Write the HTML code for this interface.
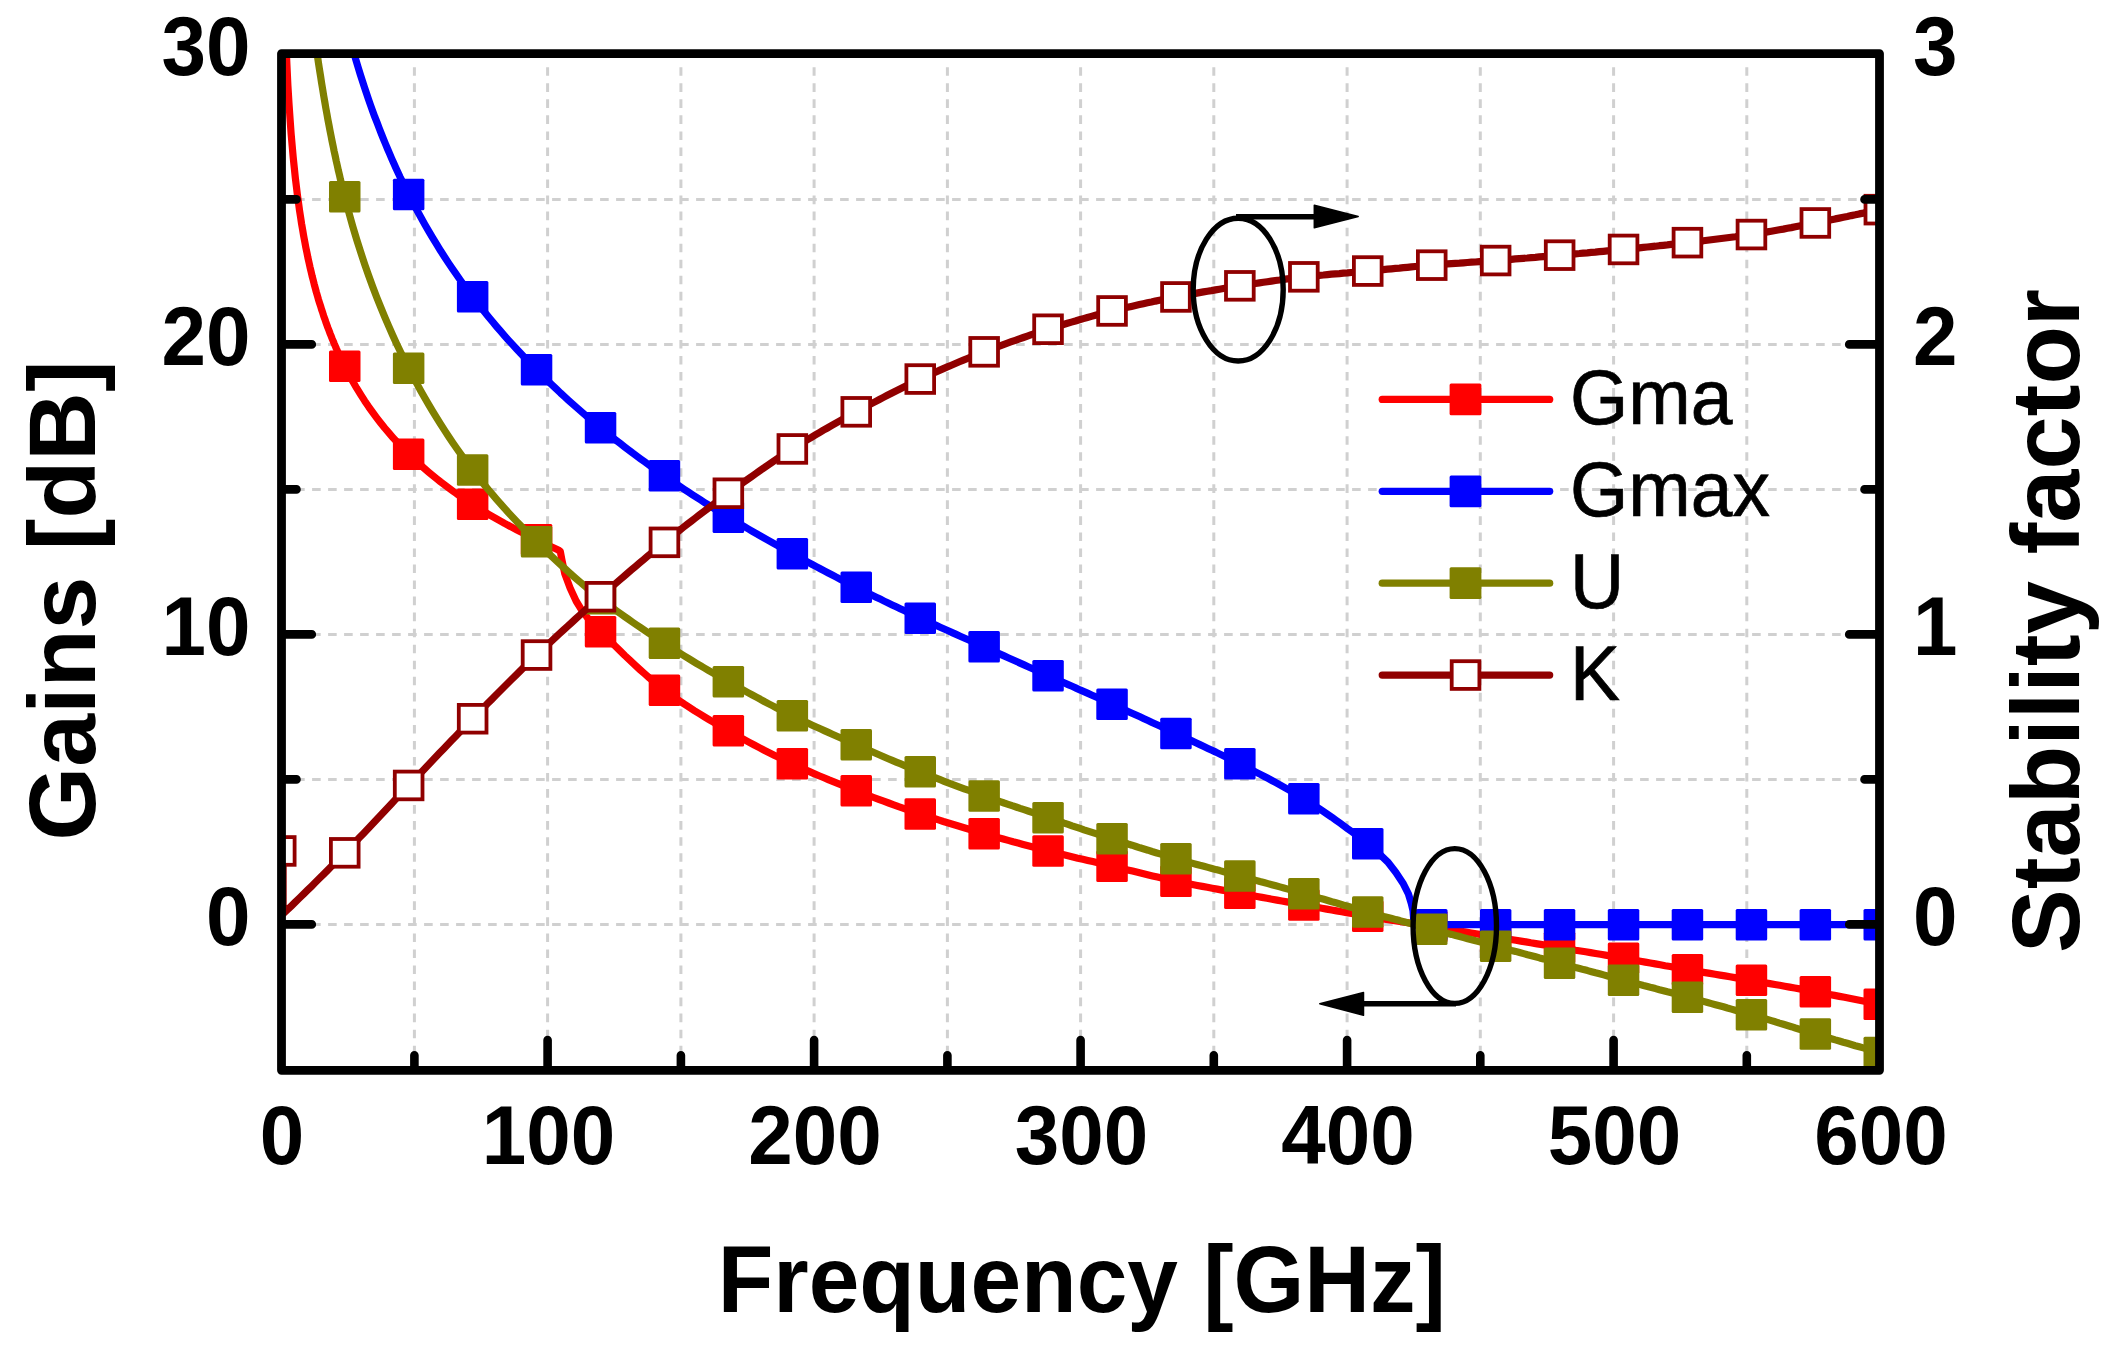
<!DOCTYPE html>
<html lang="en"><head><meta charset="utf-8"><title>Gains and stability factor vs frequency</title>
<style>html,body{margin:0;padding:0;background:#fff}svg{display:block}text{font-family:"Liberation Sans",sans-serif;fill:#000}.b{font-weight:bold}.tk{font-size:80px;font-weight:bold}.ti{font-size:95px;font-weight:bold}.lg{font-size:75px;stroke:#000;stroke-width:0.7px}</style></head><body>
<svg width="2123" height="1346" viewBox="0 0 2123 1346" role="img" aria-label="Gains and stability factor versus frequency">
<rect width="2123" height="1346" fill="#fff"/>
<defs><clipPath id="pc"><rect x="281.5" y="53.6" width="1598.0" height="1016.7"/></clipPath><clipPath id="gc"><rect x="288.5" y="60.6" width="1584.0" height="1002.7"/></clipPath></defs>
<g stroke="#d0d0d0" stroke-width="3" stroke-dasharray="8.6 7.44" fill="none" clip-path="url(#gc)">
<line x1="414.4" y1="51.2" x2="414.4" y2="1070.3"/>
<line x1="547.6" y1="51.2" x2="547.6" y2="1070.3"/>
<line x1="680.9" y1="51.2" x2="680.9" y2="1070.3"/>
<line x1="814.1" y1="51.2" x2="814.1" y2="1070.3"/>
<line x1="947.4" y1="51.2" x2="947.4" y2="1070.3"/>
<line x1="1080.6" y1="51.2" x2="1080.6" y2="1070.3"/>
<line x1="1213.8" y1="51.2" x2="1213.8" y2="1070.3"/>
<line x1="1347.1" y1="51.2" x2="1347.1" y2="1070.3"/>
<line x1="1480.3" y1="51.2" x2="1480.3" y2="1070.3"/>
<line x1="1613.6" y1="51.2" x2="1613.6" y2="1070.3"/>
<line x1="1746.8" y1="51.2" x2="1746.8" y2="1070.3"/>
<line stroke-dasharray="8.6 7.4" x1="280.1" y1="924.4" x2="1879.5" y2="924.4"/>
<line stroke-dasharray="8.6 7.4" x1="280.1" y1="779.4" x2="1879.5" y2="779.4"/>
<line stroke-dasharray="8.6 7.4" x1="280.1" y1="634.4" x2="1879.5" y2="634.4"/>
<line stroke-dasharray="8.6 7.4" x1="280.1" y1="489.4" x2="1879.5" y2="489.4"/>
<line stroke-dasharray="8.6 7.4" x1="280.1" y1="344.4" x2="1879.5" y2="344.4"/>
<line stroke-dasharray="8.6 7.4" x1="280.1" y1="199.4" x2="1879.5" y2="199.4"/>
</g>
<g clip-path="url(#pc)" fill="none" stroke-linejoin="round" stroke-linecap="butt">
<path d="M282.7,-98.2 L283.7,-34.3 L284.8,7.9 L285.8,39.5 L286.9,64.7 L287.9,85.7 L289.0,103.6 L290.1,119.4 L291.1,133.4 L292.2,146.0 L293.2,157.4 L294.3,167.9 L295.3,177.6 L296.4,186.6 L297.4,195.0 L298.5,202.8 L299.5,210.2 L300.6,217.2 L301.6,223.9 L302.7,230.2 L303.7,236.1 L304.8,241.9 L305.8,247.3 L306.9,252.6 L307.9,257.6 L309.0,262.5 L310.0,267.1 L311.1,271.6 L312.1,276.0 L313.2,280.2 L314.2,284.2 L315.3,288.2 L316.3,292.0 L317.4,295.7 L318.4,299.3 L319.5,302.8 L320.6,306.2 L321.6,309.5 L322.7,312.7 L323.7,315.9 L324.8,318.9 L325.8,321.9 L326.9,324.9 L327.9,327.7 L329.0,330.5 L330.0,333.3 L331.1,335.9 L332.1,338.6 L333.2,341.1 L334.2,343.6 L335.3,346.1 L336.3,348.5 L337.4,350.9 L338.4,353.2 L339.5,355.5 L340.5,357.8 L341.6,360.0 L342.6,362.2 L343.7,364.3 L344.7,366.4 L348.7,374.1 L352.7,381.3 L356.7,388.2 L360.7,394.7 L364.7,400.9 L368.7,406.8 L372.7,412.4 L376.7,417.8 L380.7,423.0 L384.7,428.0 L388.7,432.7 L392.7,437.3 L396.7,441.7 L400.7,446.0 L404.7,450.1 L408.7,454.1 L412.7,457.9 L416.7,461.7 L420.7,465.3 L424.7,468.8 L428.7,472.2 L432.7,475.5 L436.7,478.7 L440.6,481.9 L444.6,484.9 L448.6,487.9 L452.6,490.8 L456.6,493.7 L460.6,496.4 L464.6,499.1 L468.6,501.8 L472.6,504.4 L476.6,506.9 L480.6,509.4 L484.6,511.9 L488.6,514.3 L492.6,516.6 L496.6,518.9 L500.6,521.1 L504.6,523.4 L508.6,525.5 L512.6,527.7 L516.6,529.8 L520.6,531.8 L524.6,533.8 L528.6,535.8 L532.6,537.8 L536.6,539.7 L540.9,541.8 L545.3,543.9 L549.6,546.0 L554.0,548.0 L558.3,550.0 L560.3,551.5 L561.8,559.4 L564.8,573.7 L570.1,588.0 L576.1,601.0 L582.0,610.6 L590.0,621.0 L595.0,626.1 L600.0,631.2 L604.9,636.0 L609.9,640.9 L614.9,645.8 L619.9,650.6 L624.8,655.5 L629.8,660.2 L634.8,664.9 L639.8,669.5 L644.8,673.9 L649.7,678.3 L654.7,682.4 L659.7,686.4 L664.7,690.3 L669.6,693.9 L674.6,697.5 L679.6,700.9 L684.6,704.3 L689.6,707.5 L694.5,710.7 L699.5,713.8 L704.5,716.8 L709.5,719.8 L714.4,722.8 L719.4,725.7 L724.4,728.5 L729.4,731.4 L734.4,734.2 L739.3,737.0 L744.3,739.7 L749.3,742.4 L754.3,745.0 L759.3,747.6 L764.2,750.2 L769.2,752.7 L774.2,755.2 L779.2,757.6 L784.1,760.0 L789.1,762.4 L794.1,764.7 L799.1,767.0 L804.1,769.2 L809.0,771.4 L814.0,773.6 L819.0,775.7 L824.0,777.8 L828.9,779.9 L833.9,781.9 L838.9,783.9 L843.9,785.9 L848.9,787.9 L853.8,789.9 L858.8,791.8 L863.8,793.7 L868.8,795.6 L873.7,797.5 L878.7,799.4 L883.7,801.2 L888.7,803.0 L893.7,804.8 L898.6,806.6 L903.6,808.3 L908.6,810.1 L913.6,811.8 L918.5,813.4 L923.5,815.1 L928.5,816.7 L933.5,818.3 L938.5,819.9 L943.4,821.5 L948.4,823.0 L953.4,824.5 L958.4,826.0 L963.3,827.5 L968.3,829.0 L973.3,830.5 L978.3,831.9 L983.3,833.3 L988.2,834.8 L993.2,836.2 L998.2,837.6 L1003.2,839.0 L1008.2,840.4 L1013.1,841.8 L1018.1,843.1 L1023.1,844.5 L1028.1,845.8 L1033.0,847.1 L1038.0,848.4 L1043.0,849.7 L1048.0,851.0 L1053.0,852.2 L1057.9,853.4 L1062.9,854.6 L1067.9,855.8 L1072.9,857.0 L1077.8,858.2 L1082.8,859.3 L1087.8,860.5 L1092.8,861.6 L1097.8,862.8 L1102.7,863.9 L1107.7,865.1 L1112.7,866.3 L1117.7,867.4 L1122.6,868.6 L1127.6,869.9 L1132.6,871.1 L1137.6,872.3 L1142.6,873.5 L1147.5,874.7 L1152.5,875.9 L1157.5,877.1 L1162.5,878.2 L1167.4,879.4 L1172.4,880.4 L1177.4,881.5 L1182.4,882.5 L1187.4,883.5 L1192.3,884.5 L1197.3,885.5 L1202.3,886.4 L1207.3,887.3 L1212.2,888.2 L1217.2,889.1 L1222.2,890.1 L1227.2,891.0 L1232.2,891.9 L1237.1,892.8 L1242.1,893.7 L1247.1,894.6 L1252.1,895.6 L1257.1,896.5 L1262.0,897.4 L1267.0,898.3 L1272.0,899.2 L1277.0,900.1 L1281.9,901.0 L1286.9,901.9 L1291.9,902.8 L1296.9,903.7 L1301.9,904.6 L1306.8,905.5 L1311.8,906.4 L1316.8,907.3 L1321.8,908.2 L1326.7,909.1 L1331.7,910.0 L1336.7,910.9 L1341.7,911.8 L1346.7,912.7 L1351.6,913.5 L1356.6,914.4 L1361.6,915.3 L1366.6,916.1 L1371.5,916.9 L1376.5,917.7 L1381.5,918.6 L1386.5,919.4 L1391.5,920.1 L1396.4,920.9 L1401.4,921.7 L1406.4,922.5 L1411.4,923.3 L1416.3,924.0 L1421.3,924.8 L1426.3,925.6 L1431.3,926.4 L1436.3,927.2 L1441.2,928.0 L1446.2,928.9 L1451.2,929.7 L1456.2,930.5 L1461.1,931.3 L1466.1,932.1 L1471.1,933.0 L1476.1,933.8 L1481.1,934.6 L1486.0,935.4 L1491.0,936.2 L1496.0,937.1 L1501.0,937.9 L1506.0,938.7 L1510.9,939.5 L1515.9,940.3 L1520.9,941.1 L1525.9,941.9 L1530.8,942.8 L1535.8,943.6 L1540.8,944.4 L1545.8,945.2 L1550.8,946.0 L1555.7,946.9 L1560.7,947.7 L1565.7,948.5 L1570.7,949.3 L1575.6,950.2 L1580.6,951.0 L1585.6,951.8 L1590.6,952.6 L1595.6,953.5 L1600.5,954.3 L1605.5,955.1 L1610.5,956.0 L1615.5,956.8 L1620.4,957.7 L1625.4,958.5 L1630.4,959.4 L1635.4,960.3 L1640.4,961.2 L1645.3,962.1 L1650.3,963.0 L1655.3,963.9 L1660.3,964.8 L1665.2,965.7 L1670.2,966.5 L1675.2,967.4 L1680.2,968.3 L1685.2,969.2 L1690.1,970.1 L1695.1,970.9 L1700.1,971.8 L1705.1,972.6 L1710.0,973.4 L1715.0,974.3 L1720.0,975.1 L1725.0,975.9 L1730.0,976.8 L1734.9,977.6 L1739.9,978.4 L1744.9,979.3 L1749.9,980.1 L1754.9,981.0 L1759.8,981.9 L1764.8,982.7 L1769.8,983.6 L1774.8,984.5 L1779.7,985.3 L1784.7,986.2 L1789.7,987.1 L1794.7,988.0 L1799.7,988.9 L1804.6,989.8 L1809.6,990.7 L1814.6,991.7 L1819.6,992.6 L1824.5,993.5 L1829.5,994.5 L1834.5,995.4 L1839.5,996.4 L1844.5,997.3 L1849.4,998.3 L1854.4,999.3 L1859.4,1000.3 L1864.4,1001.3 L1869.3,1002.3 L1874.3,1003.3 L1879.3,1004.3" stroke="#ff0000" stroke-width="7.2"/>
<rect x="329.0" y="350.6" width="31.5" height="31.5" rx="1.5" fill="#ff0000" stroke="none"/>
<rect x="392.9" y="438.4" width="31.5" height="31.5" rx="1.5" fill="#ff0000" stroke="none"/>
<rect x="456.9" y="488.6" width="31.5" height="31.5" rx="1.5" fill="#ff0000" stroke="none"/>
<rect x="520.8" y="524.0" width="31.5" height="31.5" rx="1.5" fill="#ff0000" stroke="none"/>
<rect x="584.8" y="616.0" width="31.5" height="31.5" rx="1.5" fill="#ff0000" stroke="none"/>
<rect x="648.7" y="674.4" width="31.5" height="31.5" rx="1.5" fill="#ff0000" stroke="none"/>
<rect x="712.6" y="715.0" width="31.5" height="31.5" rx="1.5" fill="#ff0000" stroke="none"/>
<rect x="776.6" y="748.1" width="31.5" height="31.5" rx="1.5" fill="#ff0000" stroke="none"/>
<rect x="840.5" y="775.0" width="31.5" height="31.5" rx="1.5" fill="#ff0000" stroke="none"/>
<rect x="904.5" y="798.2" width="31.5" height="31.5" rx="1.5" fill="#ff0000" stroke="none"/>
<rect x="968.4" y="817.9" width="31.5" height="31.5" rx="1.5" fill="#ff0000" stroke="none"/>
<rect x="1032.3" y="835.2" width="31.5" height="31.5" rx="1.5" fill="#ff0000" stroke="none"/>
<rect x="1096.3" y="850.4" width="31.5" height="31.5" rx="1.5" fill="#ff0000" stroke="none"/>
<rect x="1160.2" y="865.5" width="31.5" height="31.5" rx="1.5" fill="#ff0000" stroke="none"/>
<rect x="1224.1" y="877.5" width="31.5" height="31.5" rx="1.5" fill="#ff0000" stroke="none"/>
<rect x="1288.1" y="889.2" width="31.5" height="31.5" rx="1.5" fill="#ff0000" stroke="none"/>
<rect x="1352.0" y="900.5" width="31.5" height="31.5" rx="1.5" fill="#ff0000" stroke="none"/>
<rect x="1416.0" y="910.8" width="31.5" height="31.5" rx="1.5" fill="#ff0000" stroke="none"/>
<rect x="1479.9" y="921.2" width="31.5" height="31.5" rx="1.5" fill="#ff0000" stroke="none"/>
<rect x="1543.8" y="931.8" width="31.5" height="31.5" rx="1.5" fill="#ff0000" stroke="none"/>
<rect x="1607.8" y="942.5" width="31.5" height="31.5" rx="1.5" fill="#ff0000" stroke="none"/>
<rect x="1671.7" y="953.9" width="31.5" height="31.5" rx="1.5" fill="#ff0000" stroke="none"/>
<rect x="1735.7" y="964.6" width="31.5" height="31.5" rx="1.5" fill="#ff0000" stroke="none"/>
<rect x="1799.6" y="976.0" width="31.5" height="31.5" rx="1.5" fill="#ff0000" stroke="none"/>
<rect x="1863.5" y="988.5" width="31.5" height="31.5" rx="1.5" fill="#ff0000" stroke="none"/>
<path d="M284.3,-734.7 L286.4,-606.9 L288.5,-522.5 L290.6,-459.4 L292.7,-409.0 L294.8,-367.0 L296.9,-331.0 L299.0,-299.5 L301.2,-271.6 L303.3,-246.4 L305.4,-223.5 L307.5,-202.5 L309.6,-183.1 L311.7,-165.2 L313.8,-148.4 L315.9,-132.6 L318.0,-117.8 L320.1,-103.8 L322.2,-90.6 L324.3,-78.0 L326.5,-66.0 L328.6,-54.6 L330.7,-43.6 L332.8,-33.1 L334.9,-23.1 L337.0,-13.4 L339.1,-4.0 L341.2,5.0 L343.3,13.6 L345.4,22.0 L347.5,30.2 L349.6,38.0 L351.8,45.7 L353.9,53.1 L356.0,60.3 L358.1,67.2 L360.2,74.1 L362.3,80.7 L364.4,87.1 L366.5,93.4 L368.6,99.6 L370.7,105.6 L372.8,111.4 L374.9,117.2 L377.1,122.7 L379.2,128.2 L381.3,133.6 L383.4,138.8 L385.5,144.0 L387.6,149.0 L389.7,153.9 L391.8,158.8 L393.9,163.5 L396.0,168.2 L398.1,172.8 L400.2,177.3 L402.4,181.7 L404.5,186.0 L406.6,190.3 L408.7,194.5 L412.7,202.3 L416.7,209.8 L420.7,217.1 L424.7,224.2 L428.7,231.1 L432.7,237.8 L436.7,244.4 L440.6,250.8 L444.6,257.0 L448.6,263.1 L452.6,269.0 L456.6,274.8 L460.6,280.5 L464.6,286.0 L468.6,291.5 L472.6,296.8 L476.6,302.0 L480.6,307.1 L484.6,312.1 L488.6,317.0 L492.6,321.8 L496.6,326.6 L500.6,331.2 L504.6,335.8 L508.6,340.3 L512.6,344.7 L516.6,349.0 L520.6,353.3 L524.6,357.5 L528.6,361.7 L532.6,365.8 L536.6,369.8 L540.6,373.8 L544.6,377.7 L548.5,381.6 L552.5,385.4 L556.5,389.2 L560.5,393.0 L564.5,396.6 L568.5,400.3 L572.5,403.9 L576.5,407.4 L580.5,410.9 L584.5,414.4 L588.5,417.8 L592.5,421.2 L596.5,424.5 L600.5,427.8 L604.5,431.1 L608.5,434.3 L612.5,437.5 L616.5,440.6 L620.5,443.7 L624.5,446.8 L628.5,449.8 L632.5,452.9 L636.5,455.8 L640.5,458.8 L644.5,461.7 L648.5,464.6 L652.5,467.5 L656.4,470.3 L660.4,473.1 L664.4,475.9 L668.4,478.7 L672.4,481.4 L676.4,484.1 L680.4,486.8 L684.4,489.4 L688.4,492.1 L692.4,494.7 L696.4,497.3 L700.4,499.8 L704.4,502.4 L708.4,504.9 L712.4,507.4 L716.4,509.9 L720.4,512.3 L724.4,514.8 L728.4,517.2 L732.4,519.6 L736.4,522.0 L740.4,524.4 L744.4,526.7 L748.4,529.0 L752.4,531.3 L756.4,533.6 L760.3,535.9 L764.3,538.2 L768.3,540.4 L772.3,542.7 L776.3,544.9 L780.3,547.1 L784.3,549.3 L788.3,551.5 L792.3,553.7 L796.3,555.9 L800.3,558.0 L804.3,560.2 L808.3,562.4 L812.3,564.5 L816.3,566.6 L820.3,568.7 L824.3,570.9 L828.3,573.0 L832.3,575.0 L836.3,577.1 L840.3,579.2 L844.3,581.2 L848.3,583.3 L852.3,585.3 L856.3,587.3 L860.3,589.3 L864.3,591.3 L868.2,593.3 L872.2,595.2 L876.2,597.2 L880.2,599.1 L884.2,601.1 L888.2,603.0 L892.2,604.9 L896.2,606.8 L900.2,608.7 L904.2,610.6 L908.2,612.5 L912.2,614.4 L916.2,616.2 L920.2,618.1 L924.2,620.0 L928.2,621.8 L932.2,623.6 L936.2,625.4 L940.2,627.2 L944.2,629.0 L948.2,630.8 L952.2,632.6 L956.2,634.4 L960.2,636.2 L964.2,638.0 L968.2,639.7 L972.2,641.5 L976.1,643.3 L980.1,645.1 L984.1,646.9 L988.1,648.7 L992.1,650.5 L996.1,652.3 L1000.1,654.1 L1004.1,655.9 L1008.1,657.7 L1012.1,659.5 L1016.1,661.3 L1020.1,663.1 L1024.1,664.9 L1028.1,666.7 L1032.1,668.5 L1036.1,670.3 L1040.1,672.1 L1044.1,673.9 L1048.1,675.7 L1052.1,677.5 L1056.1,679.3 L1060.1,681.0 L1064.1,682.8 L1068.1,684.6 L1072.1,686.3 L1076.1,688.1 L1080.0,689.9 L1084.0,691.6 L1088.0,693.4 L1092.0,695.2 L1096.0,696.9 L1100.0,698.7 L1104.0,700.5 L1108.0,702.3 L1112.0,704.1 L1116.0,705.9 L1120.0,707.7 L1124.0,709.5 L1128.0,711.4 L1132.0,713.2 L1136.0,715.0 L1140.0,716.8 L1144.0,718.7 L1148.0,720.5 L1152.0,722.4 L1156.0,724.2 L1160.0,726.1 L1164.0,727.9 L1168.0,729.8 L1172.0,731.6 L1176.0,733.5 L1180.0,735.4 L1184.0,737.2 L1187.9,739.1 L1191.9,740.9 L1195.9,742.8 L1199.9,744.6 L1203.9,746.5 L1207.9,748.4 L1211.9,750.3 L1215.9,752.1 L1219.9,754.1 L1223.9,756.0 L1227.9,757.9 L1231.9,759.9 L1235.9,761.9 L1239.9,763.9 L1243.9,765.9 L1247.9,768.0 L1251.9,770.0 L1255.9,772.1 L1259.9,774.1 L1263.9,776.2 L1267.9,778.3 L1271.9,780.5 L1275.9,782.7 L1279.9,784.9 L1283.9,787.1 L1287.9,789.3 L1291.9,791.6 L1295.8,794.0 L1299.8,796.4 L1303.8,798.8 L1307.8,801.3 L1311.8,803.8 L1315.8,806.4 L1319.8,809.0 L1323.8,811.7 L1327.8,814.5 L1331.8,817.2 L1335.8,820.1 L1339.8,822.9 L1343.8,825.8 L1347.8,828.8 L1351.8,831.7 L1355.8,834.7 L1359.8,837.8 L1363.8,840.8 L1367.8,843.9 L1378.0,852.6 L1387.6,861.8 L1395.9,872.5 L1403.0,883.2 L1408.4,893.9 L1411.3,903.4 L1413.0,910.6 L1413.6,918.0 L1413.7,924.6 L1881.5,924.6" stroke="#0000ff" stroke-width="7.2"/>
<rect x="392.9" y="178.8" width="31.5" height="31.5" rx="1.5" fill="#0000ff" stroke="none"/>
<rect x="456.9" y="281.1" width="31.5" height="31.5" rx="1.5" fill="#0000ff" stroke="none"/>
<rect x="520.8" y="354.1" width="31.5" height="31.5" rx="1.5" fill="#0000ff" stroke="none"/>
<rect x="584.8" y="412.1" width="31.5" height="31.5" rx="1.5" fill="#0000ff" stroke="none"/>
<rect x="648.7" y="460.1" width="31.5" height="31.5" rx="1.5" fill="#0000ff" stroke="none"/>
<rect x="712.6" y="501.5" width="31.5" height="31.5" rx="1.5" fill="#0000ff" stroke="none"/>
<rect x="776.6" y="538.0" width="31.5" height="31.5" rx="1.5" fill="#0000ff" stroke="none"/>
<rect x="840.5" y="571.5" width="31.5" height="31.5" rx="1.5" fill="#0000ff" stroke="none"/>
<rect x="904.5" y="602.4" width="31.5" height="31.5" rx="1.5" fill="#0000ff" stroke="none"/>
<rect x="968.4" y="631.1" width="31.5" height="31.5" rx="1.5" fill="#0000ff" stroke="none"/>
<rect x="1032.3" y="660.0" width="31.5" height="31.5" rx="1.5" fill="#0000ff" stroke="none"/>
<rect x="1096.3" y="688.4" width="31.5" height="31.5" rx="1.5" fill="#0000ff" stroke="none"/>
<rect x="1160.2" y="717.8" width="31.5" height="31.5" rx="1.5" fill="#0000ff" stroke="none"/>
<rect x="1224.1" y="748.1" width="31.5" height="31.5" rx="1.5" fill="#0000ff" stroke="none"/>
<rect x="1288.1" y="783.0" width="31.5" height="31.5" rx="1.5" fill="#0000ff" stroke="none"/>
<rect x="1352.0" y="828.1" width="31.5" height="31.5" rx="1.5" fill="#0000ff" stroke="none"/>
<rect x="1416.0" y="908.9" width="31.5" height="31.5" rx="1.5" fill="#0000ff" stroke="none"/>
<rect x="1479.9" y="908.9" width="31.5" height="31.5" rx="1.5" fill="#0000ff" stroke="none"/>
<rect x="1543.8" y="908.9" width="31.5" height="31.5" rx="1.5" fill="#0000ff" stroke="none"/>
<rect x="1607.8" y="908.9" width="31.5" height="31.5" rx="1.5" fill="#0000ff" stroke="none"/>
<rect x="1671.7" y="908.9" width="31.5" height="31.5" rx="1.5" fill="#0000ff" stroke="none"/>
<rect x="1735.7" y="908.9" width="31.5" height="31.5" rx="1.5" fill="#0000ff" stroke="none"/>
<rect x="1799.6" y="908.9" width="31.5" height="31.5" rx="1.5" fill="#0000ff" stroke="none"/>
<rect x="1863.5" y="908.9" width="31.5" height="31.5" rx="1.5" fill="#0000ff" stroke="none"/>
<path d="M282.7,-732.4 L283.7,-604.6 L284.8,-520.2 L285.8,-457.1 L286.9,-406.7 L287.9,-364.7 L289.0,-328.7 L290.1,-297.2 L291.1,-269.3 L292.2,-244.1 L293.2,-221.2 L294.3,-200.2 L295.3,-180.8 L296.4,-162.9 L297.4,-146.1 L298.5,-130.3 L299.5,-115.5 L300.6,-101.5 L301.6,-88.3 L302.7,-75.7 L303.7,-63.7 L304.8,-52.3 L305.8,-41.3 L306.9,-30.8 L307.9,-20.8 L309.0,-11.1 L310.0,-1.7 L311.1,7.3 L312.1,15.9 L313.2,24.3 L314.2,32.5 L315.3,40.3 L316.3,48.0 L317.4,55.4 L318.4,62.6 L319.5,69.6 L320.6,76.4 L321.6,83.0 L322.7,89.5 L323.7,95.8 L324.8,102.0 L325.8,108.0 L326.9,113.9 L327.9,119.6 L329.0,125.2 L330.0,130.7 L331.1,136.1 L332.1,141.3 L333.2,146.5 L334.2,151.5 L335.3,156.4 L336.3,161.3 L337.4,166.0 L338.4,170.7 L339.5,175.2 L340.5,179.7 L341.6,184.1 L342.6,188.4 L343.7,192.6 L344.7,196.8 L348.7,211.9 L352.7,226.2 L356.7,239.6 L360.7,252.2 L364.7,264.3 L368.7,275.7 L372.7,286.7 L376.7,297.2 L380.7,307.2 L384.7,316.9 L388.7,326.2 L392.7,335.2 L396.7,343.9 L400.7,352.3 L404.7,360.4 L408.7,368.3 L412.7,376.0 L416.7,383.4 L420.7,390.7 L424.7,397.8 L428.7,404.6 L432.7,411.3 L436.7,417.9 L440.6,424.2 L444.6,430.4 L448.6,436.5 L452.6,442.4 L456.6,448.2 L460.6,453.8 L464.6,459.3 L468.6,464.7 L472.6,470.0 L476.6,475.2 L480.6,480.2 L484.6,485.1 L488.6,490.0 L492.6,494.7 L496.6,499.3 L500.6,503.9 L504.6,508.4 L508.6,512.8 L512.6,517.1 L516.6,521.4 L520.6,525.6 L524.6,529.7 L528.6,533.8 L532.6,537.8 L536.6,541.8 L540.6,545.7 L544.6,549.6 L548.5,553.4 L552.5,557.2 L556.5,561.0 L560.5,564.7 L564.5,568.3 L568.5,571.9 L572.5,575.5 L576.5,578.9 L580.5,582.4 L584.5,585.8 L588.5,589.1 L592.5,592.3 L596.5,595.5 L600.5,598.7 L604.5,601.8 L608.5,604.8 L612.5,607.8 L616.5,610.8 L620.5,613.7 L624.5,616.5 L628.5,619.3 L632.5,622.1 L636.5,624.9 L640.5,627.6 L644.5,630.3 L648.5,633.0 L652.5,635.6 L656.4,638.2 L660.4,640.8 L664.4,643.4 L668.4,646.0 L672.4,648.5 L676.4,651.0 L680.4,653.5 L684.4,656.0 L688.4,658.4 L692.4,660.9 L696.4,663.3 L700.4,665.6 L704.4,668.0 L708.4,670.4 L712.4,672.7 L716.4,675.0 L720.4,677.3 L724.4,679.5 L728.4,681.8 L732.4,684.0 L736.4,686.3 L740.4,688.5 L744.4,690.7 L748.4,692.9 L752.4,695.0 L756.4,697.2 L760.4,699.3 L764.3,701.5 L768.3,703.6 L772.3,705.6 L776.3,707.7 L780.3,709.7 L784.3,711.7 L788.3,713.7 L792.3,715.7 L796.3,717.6 L800.3,719.6 L804.3,721.5 L808.3,723.3 L812.3,725.2 L816.3,727.0 L820.3,728.8 L824.3,730.6 L828.3,732.4 L832.3,734.2 L836.3,736.0 L840.3,737.8 L844.3,739.5 L848.3,741.3 L852.3,743.0 L856.3,744.8 L860.3,746.6 L864.3,748.3 L868.2,750.0 L872.2,751.8 L876.2,753.5 L880.2,755.2 L884.2,757.0 L888.2,758.7 L892.2,760.4 L896.2,762.1 L900.2,763.7 L904.2,765.4 L908.2,767.0 L912.2,768.7 L916.2,770.3 L920.2,771.9 L924.2,773.5 L928.2,775.1 L932.2,776.6 L936.2,778.2 L940.2,779.7 L944.2,781.3 L948.2,782.8 L952.2,784.3 L956.2,785.8 L960.2,787.3 L964.2,788.8 L968.2,790.2 L972.2,791.7 L976.1,793.1 L980.1,794.6 L984.1,796.0 L988.1,797.4 L992.1,798.8 L996.1,800.2 L1000.1,801.6 L1004.1,803.0 L1008.1,804.3 L1012.1,805.7 L1016.1,807.0 L1020.1,808.4 L1024.1,809.7 L1028.1,811.0 L1032.1,812.4 L1036.1,813.7 L1040.1,815.0 L1044.1,816.4 L1048.1,817.7 L1052.1,819.0 L1056.1,820.4 L1060.1,821.7 L1064.1,823.1 L1068.1,824.4 L1072.1,825.8 L1076.1,827.1 L1080.0,828.4 L1084.0,829.8 L1088.0,831.1 L1092.0,832.4 L1096.0,833.7 L1100.0,835.0 L1104.0,836.3 L1108.0,837.6 L1112.0,838.9 L1116.0,840.2 L1120.0,841.4 L1124.0,842.7 L1128.0,844.0 L1132.0,845.2 L1136.0,846.5 L1140.0,847.8 L1144.0,849.0 L1148.0,850.2 L1152.0,851.5 L1156.0,852.7 L1160.0,853.9 L1164.0,855.1 L1168.0,856.3 L1172.0,857.4 L1176.0,858.6 L1180.0,859.7 L1184.0,860.9 L1187.9,862.0 L1191.9,863.1 L1195.9,864.2 L1199.9,865.3 L1203.9,866.3 L1207.9,867.4 L1211.9,868.5 L1215.9,869.6 L1219.9,870.6 L1223.9,871.7 L1227.9,872.8 L1231.9,873.8 L1235.9,874.9 L1239.9,876.0 L1243.9,877.1 L1247.9,878.2 L1251.9,879.3 L1255.9,880.4 L1259.9,881.5 L1263.9,882.5 L1267.9,883.6 L1271.9,884.7 L1275.9,885.8 L1279.9,886.9 L1283.9,888.0 L1287.9,889.1 L1291.9,890.3 L1295.8,891.4 L1299.8,892.5 L1303.8,893.6 L1307.8,894.7 L1311.8,895.9 L1315.8,897.0 L1319.8,898.2 L1323.8,899.3 L1327.8,900.5 L1331.8,901.7 L1335.8,902.8 L1339.8,904.0 L1343.8,905.2 L1347.8,906.3 L1351.8,907.5 L1355.8,908.6 L1359.8,909.8 L1363.8,910.9 L1367.8,912.0 L1371.8,913.1 L1375.8,914.2 L1379.8,915.3 L1383.8,916.4 L1387.8,917.4 L1391.8,918.5 L1395.8,919.6 L1399.8,920.6 L1403.7,921.7 L1407.7,922.7 L1411.7,923.8 L1415.7,924.9 L1419.7,925.9 L1423.7,927.0 L1427.7,928.0 L1431.7,929.1 L1435.7,930.2 L1439.7,931.2 L1443.7,932.3 L1447.7,933.4 L1451.7,934.4 L1455.7,935.5 L1459.7,936.5 L1463.7,937.6 L1467.7,938.7 L1471.7,939.7 L1475.7,940.8 L1479.7,941.8 L1483.7,942.9 L1487.7,944.0 L1491.7,945.0 L1495.7,946.1 L1499.7,947.2 L1503.7,948.2 L1507.6,949.3 L1511.6,950.4 L1515.6,951.4 L1519.6,952.5 L1523.6,953.6 L1527.6,954.7 L1531.6,955.7 L1535.6,956.8 L1539.6,957.9 L1543.6,958.9 L1547.6,960.0 L1551.6,961.1 L1555.6,962.1 L1559.6,963.2 L1563.6,964.3 L1567.6,965.3 L1571.6,966.4 L1575.6,967.5 L1579.6,968.5 L1583.6,969.6 L1587.6,970.6 L1591.6,971.7 L1595.6,972.8 L1599.6,973.8 L1603.6,974.9 L1607.6,976.0 L1611.6,977.0 L1615.5,978.1 L1619.5,979.1 L1623.5,980.2 L1627.5,981.3 L1631.5,982.3 L1635.5,983.4 L1639.5,984.4 L1643.5,985.5 L1647.5,986.5 L1651.5,987.6 L1655.5,988.6 L1659.5,989.7 L1663.5,990.7 L1667.5,991.8 L1671.5,992.8 L1675.5,993.9 L1679.5,995.0 L1683.5,996.0 L1687.5,997.1 L1691.5,998.2 L1695.5,999.3 L1699.5,1000.3 L1703.5,1001.4 L1707.5,1002.5 L1711.5,1003.6 L1715.5,1004.7 L1719.5,1005.8 L1723.4,1006.8 L1727.4,1008.0 L1731.4,1009.1 L1735.4,1010.2 L1739.4,1011.3 L1743.4,1012.4 L1747.4,1013.6 L1751.4,1014.7 L1755.4,1015.9 L1759.4,1017.0 L1763.4,1018.2 L1767.4,1019.4 L1771.4,1020.6 L1775.4,1021.8 L1779.4,1023.1 L1783.4,1024.3 L1787.4,1025.5 L1791.4,1026.7 L1795.4,1028.0 L1799.4,1029.2 L1803.4,1030.4 L1807.4,1031.6 L1811.4,1032.8 L1815.4,1034.0 L1819.4,1035.2 L1823.4,1036.4 L1827.3,1037.5 L1831.3,1038.7 L1835.3,1039.9 L1839.3,1041.0 L1843.3,1042.2 L1847.3,1043.3 L1851.3,1044.5 L1855.3,1045.7 L1859.3,1046.8 L1863.3,1047.9 L1867.3,1049.1 L1871.3,1050.2 L1875.3,1051.4 L1879.3,1052.5" stroke="#808000" stroke-width="7.2"/>
<rect x="329.0" y="181.1" width="31.5" height="31.5" rx="1.5" fill="#808000" stroke="none"/>
<rect x="392.9" y="352.6" width="31.5" height="31.5" rx="1.5" fill="#808000" stroke="none"/>
<rect x="456.9" y="454.2" width="31.5" height="31.5" rx="1.5" fill="#808000" stroke="none"/>
<rect x="520.8" y="526.0" width="31.5" height="31.5" rx="1.5" fill="#808000" stroke="none"/>
<rect x="584.8" y="583.0" width="31.5" height="31.5" rx="1.5" fill="#808000" stroke="none"/>
<rect x="648.7" y="627.6" width="31.5" height="31.5" rx="1.5" fill="#808000" stroke="none"/>
<rect x="712.6" y="666.0" width="31.5" height="31.5" rx="1.5" fill="#808000" stroke="none"/>
<rect x="776.6" y="700.0" width="31.5" height="31.5" rx="1.5" fill="#808000" stroke="none"/>
<rect x="840.5" y="729.0" width="31.5" height="31.5" rx="1.5" fill="#808000" stroke="none"/>
<rect x="904.5" y="756.1" width="31.5" height="31.5" rx="1.5" fill="#808000" stroke="none"/>
<rect x="968.4" y="780.2" width="31.5" height="31.5" rx="1.5" fill="#808000" stroke="none"/>
<rect x="1032.3" y="802.0" width="31.5" height="31.5" rx="1.5" fill="#808000" stroke="none"/>
<rect x="1096.3" y="823.1" width="31.5" height="31.5" rx="1.5" fill="#808000" stroke="none"/>
<rect x="1160.2" y="842.9" width="31.5" height="31.5" rx="1.5" fill="#808000" stroke="none"/>
<rect x="1224.1" y="860.2" width="31.5" height="31.5" rx="1.5" fill="#808000" stroke="none"/>
<rect x="1288.1" y="877.9" width="31.5" height="31.5" rx="1.5" fill="#808000" stroke="none"/>
<rect x="1352.0" y="896.2" width="31.5" height="31.5" rx="1.5" fill="#808000" stroke="none"/>
<rect x="1416.0" y="913.4" width="31.5" height="31.5" rx="1.5" fill="#808000" stroke="none"/>
<rect x="1479.9" y="930.4" width="31.5" height="31.5" rx="1.5" fill="#808000" stroke="none"/>
<rect x="1543.8" y="947.5" width="31.5" height="31.5" rx="1.5" fill="#808000" stroke="none"/>
<rect x="1607.8" y="964.5" width="31.5" height="31.5" rx="1.5" fill="#808000" stroke="none"/>
<rect x="1671.7" y="981.4" width="31.5" height="31.5" rx="1.5" fill="#808000" stroke="none"/>
<rect x="1735.7" y="999.0" width="31.5" height="31.5" rx="1.5" fill="#808000" stroke="none"/>
<rect x="1799.6" y="1018.2" width="31.5" height="31.5" rx="1.5" fill="#808000" stroke="none"/>
<rect x="1863.5" y="1036.8" width="31.5" height="31.5" rx="1.5" fill="#808000" stroke="none"/>
<path d="M283.1,851.0 L283.1,912.5 L283.5,913.5 L287.5,909.7 L291.5,905.8 L295.5,901.9 L299.5,898.0 L303.5,894.1 L307.5,890.2 L311.5,886.3 L315.5,882.3 L319.5,878.3 L323.5,874.4 L327.5,870.4 L331.5,866.3 L335.5,862.3 L339.5,858.2 L343.5,854.2 L347.5,850.1 L351.5,846.0 L355.5,841.8 L359.5,837.6 L363.5,833.4 L367.5,829.2 L371.5,825.0 L375.5,820.7 L379.5,816.5 L383.5,812.2 L387.5,808.0 L391.5,803.7 L395.5,799.4 L399.5,795.2 L403.5,791.0 L407.5,786.8 L411.5,782.6 L415.5,778.4 L419.5,774.1 L423.5,769.9 L427.5,765.7 L431.5,761.5 L435.5,757.3 L439.5,753.1 L443.5,748.9 L447.5,744.7 L451.5,740.5 L455.5,736.4 L459.5,732.2 L463.5,728.1 L467.5,724.0 L471.5,719.9 L475.5,715.8 L479.5,711.7 L483.5,707.7 L487.5,703.6 L491.5,699.6 L495.5,695.5 L499.5,691.5 L503.5,687.5 L507.5,683.5 L511.5,679.5 L515.5,675.6 L519.5,671.6 L523.5,667.7 L527.5,663.8 L531.5,660.0 L535.5,656.1 L539.5,652.3 L543.5,648.6 L547.5,644.8 L551.5,641.1 L555.5,637.3 L559.5,633.6 L563.5,630.0 L567.5,626.3 L571.5,622.7 L575.5,619.0 L579.5,615.4 L583.5,611.8 L587.5,608.3 L591.5,604.7 L595.5,601.1 L599.5,597.6 L603.5,594.1 L607.5,590.6 L611.5,587.1 L615.5,583.6 L619.5,580.1 L623.5,576.7 L627.5,573.2 L631.5,569.8 L635.5,566.4 L639.5,563.0 L643.5,559.7 L647.5,556.3 L651.5,553.0 L655.5,549.7 L659.5,546.4 L663.5,543.2 L667.5,540.0 L671.5,536.8 L675.5,533.6 L679.5,530.4 L683.4,527.3 L687.4,524.2 L691.4,521.1 L695.4,518.0 L699.4,514.9 L703.4,511.9 L707.4,508.8 L711.4,505.8 L715.4,502.8 L719.4,499.9 L723.4,496.9 L727.4,494.0 L731.4,491.1 L735.4,488.2 L739.4,485.3 L743.4,482.4 L747.4,479.5 L751.4,476.7 L755.4,473.8 L759.4,471.0 L763.4,468.2 L767.4,465.5 L771.4,462.7 L775.4,460.0 L779.4,457.3 L783.4,454.7 L787.4,452.1 L791.4,449.6 L795.4,447.0 L799.4,444.6 L803.4,442.1 L807.4,439.7 L811.4,437.3 L815.4,434.9 L819.4,432.6 L823.4,430.2 L827.4,428.0 L831.4,425.7 L835.4,423.4 L839.4,421.2 L843.4,418.9 L847.4,416.7 L851.4,414.5 L855.4,412.4 L859.4,410.2 L863.4,408.0 L867.4,405.9 L871.4,403.7 L875.4,401.6 L879.4,399.5 L883.4,397.4 L887.4,395.3 L891.4,393.2 L895.4,391.2 L899.4,389.2 L903.4,387.2 L907.4,385.2 L911.4,383.3 L915.4,381.3 L919.4,379.5 L923.4,377.6 L927.4,375.8 L931.4,374.0 L935.4,372.2 L939.4,370.4 L943.4,368.6 L947.4,366.9 L951.4,365.2 L955.4,363.5 L959.4,361.8 L963.4,360.2 L967.4,358.5 L971.4,356.9 L975.4,355.3 L979.4,353.7 L983.4,352.2 L987.4,350.6 L991.4,349.1 L995.4,347.6 L999.4,346.1 L1003.4,344.6 L1007.4,343.2 L1011.4,341.7 L1015.4,340.3 L1019.4,338.9 L1023.4,337.5 L1027.4,336.1 L1031.4,334.7 L1035.4,333.4 L1039.4,332.1 L1043.4,330.8 L1047.4,329.5 L1051.4,328.3 L1055.4,327.0 L1059.4,325.8 L1063.4,324.5 L1067.4,323.3 L1071.4,322.1 L1075.4,321.0 L1079.4,319.8 L1083.4,318.6 L1087.4,317.5 L1091.4,316.4 L1095.4,315.3 L1099.4,314.2 L1103.4,313.2 L1107.4,312.2 L1111.4,311.2 L1115.4,310.2 L1119.4,309.2 L1123.4,308.2 L1127.4,307.3 L1131.4,306.4 L1135.4,305.5 L1139.4,304.6 L1143.4,303.7 L1147.4,302.8 L1151.4,302.0 L1155.4,301.1 L1159.4,300.3 L1163.4,299.5 L1167.4,298.7 L1171.4,297.9 L1175.4,297.1 L1179.4,296.3 L1183.4,295.6 L1187.4,294.8 L1191.4,294.1 L1195.4,293.4 L1199.4,292.6 L1203.4,291.9 L1207.4,291.2 L1211.4,290.6 L1215.4,289.9 L1219.4,289.2 L1223.4,288.5 L1227.4,287.9 L1231.4,287.2 L1235.4,286.6 L1239.4,286.0 L1243.4,285.4 L1247.4,284.7 L1251.4,284.1 L1255.4,283.5 L1259.4,282.9 L1263.4,282.3 L1267.4,281.7 L1271.4,281.1 L1275.4,280.5 L1279.4,280.0 L1283.4,279.4 L1287.4,278.9 L1291.4,278.4 L1295.4,277.9 L1299.4,277.4 L1303.4,277.0 L1307.4,276.5 L1311.4,276.1 L1315.4,275.7 L1319.4,275.3 L1323.4,275.0 L1327.4,274.6 L1331.4,274.2 L1335.4,273.9 L1339.4,273.6 L1343.4,273.2 L1347.4,272.9 L1351.4,272.5 L1355.4,272.2 L1359.4,271.9 L1363.4,271.5 L1367.4,271.1 L1371.4,270.8 L1375.4,270.4 L1379.4,270.0 L1383.4,269.6 L1387.4,269.2 L1391.4,268.8 L1395.4,268.4 L1399.4,268.1 L1403.4,267.7 L1407.4,267.3 L1411.4,266.9 L1415.4,266.5 L1419.4,266.2 L1423.4,265.8 L1427.4,265.5 L1431.4,265.1 L1435.4,264.8 L1439.4,264.5 L1443.4,264.2 L1447.4,263.9 L1451.4,263.6 L1455.4,263.3 L1459.4,263.1 L1463.4,262.8 L1467.4,262.5 L1471.4,262.2 L1475.4,262.0 L1479.4,261.7 L1483.3,261.4 L1487.3,261.1 L1491.3,260.8 L1495.3,260.5 L1499.3,260.2 L1503.3,259.9 L1507.3,259.6 L1511.3,259.3 L1515.3,258.9 L1519.3,258.6 L1523.3,258.3 L1527.3,258.0 L1531.3,257.6 L1535.3,257.3 L1539.3,256.9 L1543.3,256.6 L1547.3,256.3 L1551.3,255.9 L1555.3,255.6 L1559.3,255.2 L1563.3,254.9 L1567.3,254.5 L1571.3,254.2 L1575.3,253.8 L1579.3,253.5 L1583.3,253.1 L1587.3,252.8 L1591.3,252.4 L1595.3,252.1 L1599.3,251.7 L1603.3,251.3 L1607.3,250.9 L1611.3,250.6 L1615.3,250.2 L1619.3,249.8 L1623.3,249.4 L1627.3,249.0 L1631.3,248.6 L1635.3,248.2 L1639.3,247.8 L1643.3,247.4 L1647.3,247.0 L1651.3,246.6 L1655.3,246.2 L1659.3,245.7 L1663.3,245.3 L1667.3,244.9 L1671.3,244.4 L1675.3,244.0 L1679.3,243.5 L1683.3,243.1 L1687.3,242.6 L1691.3,242.2 L1695.3,241.7 L1699.3,241.2 L1703.3,240.8 L1707.3,240.3 L1711.3,239.8 L1715.3,239.3 L1719.3,238.8 L1723.3,238.3 L1727.3,237.8 L1731.3,237.3 L1735.3,236.8 L1739.3,236.2 L1743.3,235.7 L1747.3,235.1 L1751.3,234.5 L1755.3,233.9 L1759.3,233.3 L1763.3,232.6 L1767.3,231.9 L1771.3,231.2 L1775.3,230.5 L1779.3,229.8 L1783.3,229.1 L1787.3,228.3 L1791.3,227.6 L1795.3,226.8 L1799.3,226.0 L1803.3,225.2 L1807.3,224.5 L1811.3,223.7 L1815.3,222.9 L1819.3,222.1 L1823.3,221.3 L1827.3,220.6 L1831.3,219.8 L1835.3,218.9 L1839.3,218.1 L1843.3,217.3 L1847.3,216.5 L1851.3,215.6 L1855.3,214.8 L1859.3,213.9 L1863.3,213.1 L1867.3,212.2 L1871.3,211.4 L1875.3,210.5 L1879.3,209.6" stroke="#900000" stroke-width="7.2"/>
<rect x="266.9" y="837.1" width="27.7" height="27.7" fill="#fff" stroke="#900000" stroke-width="3.8" stroke-linejoin="miter"/>
<rect x="330.9" y="839.0" width="27.7" height="27.7" fill="#fff" stroke="#900000" stroke-width="3.8" stroke-linejoin="miter"/>
<rect x="394.8" y="771.6" width="27.7" height="27.7" fill="#fff" stroke="#900000" stroke-width="3.8" stroke-linejoin="miter"/>
<rect x="458.8" y="704.9" width="27.7" height="27.7" fill="#fff" stroke="#900000" stroke-width="3.8" stroke-linejoin="miter"/>
<rect x="522.7" y="641.2" width="27.7" height="27.7" fill="#fff" stroke="#900000" stroke-width="3.8" stroke-linejoin="miter"/>
<rect x="586.6" y="582.9" width="27.7" height="27.7" fill="#fff" stroke="#900000" stroke-width="3.8" stroke-linejoin="miter"/>
<rect x="650.6" y="528.5" width="27.7" height="27.7" fill="#fff" stroke="#900000" stroke-width="3.8" stroke-linejoin="miter"/>
<rect x="714.5" y="479.4" width="27.7" height="27.7" fill="#fff" stroke="#900000" stroke-width="3.8" stroke-linejoin="miter"/>
<rect x="778.5" y="435.1" width="27.7" height="27.7" fill="#fff" stroke="#900000" stroke-width="3.8" stroke-linejoin="miter"/>
<rect x="842.4" y="398.0" width="27.7" height="27.7" fill="#fff" stroke="#900000" stroke-width="3.8" stroke-linejoin="miter"/>
<rect x="906.4" y="365.2" width="27.7" height="27.7" fill="#fff" stroke="#900000" stroke-width="3.8" stroke-linejoin="miter"/>
<rect x="970.3" y="338.0" width="27.7" height="27.7" fill="#fff" stroke="#900000" stroke-width="3.8" stroke-linejoin="miter"/>
<rect x="1034.2" y="315.4" width="27.7" height="27.7" fill="#fff" stroke="#900000" stroke-width="3.8" stroke-linejoin="miter"/>
<rect x="1098.2" y="297.1" width="27.7" height="27.7" fill="#fff" stroke="#900000" stroke-width="3.8" stroke-linejoin="miter"/>
<rect x="1162.1" y="283.1" width="27.7" height="27.7" fill="#fff" stroke="#900000" stroke-width="3.8" stroke-linejoin="miter"/>
<rect x="1226.0" y="272.0" width="27.7" height="27.7" fill="#fff" stroke="#900000" stroke-width="3.8" stroke-linejoin="miter"/>
<rect x="1290.0" y="263.0" width="27.7" height="27.7" fill="#fff" stroke="#900000" stroke-width="3.8" stroke-linejoin="miter"/>
<rect x="1353.9" y="257.2" width="27.7" height="27.7" fill="#fff" stroke="#900000" stroke-width="3.8" stroke-linejoin="miter"/>
<rect x="1417.9" y="251.3" width="27.7" height="27.7" fill="#fff" stroke="#900000" stroke-width="3.8" stroke-linejoin="miter"/>
<rect x="1481.8" y="246.7" width="27.7" height="27.7" fill="#fff" stroke="#900000" stroke-width="3.8" stroke-linejoin="miter"/>
<rect x="1545.8" y="241.3" width="27.7" height="27.7" fill="#fff" stroke="#900000" stroke-width="3.8" stroke-linejoin="miter"/>
<rect x="1609.7" y="235.6" width="27.7" height="27.7" fill="#fff" stroke="#900000" stroke-width="3.8" stroke-linejoin="miter"/>
<rect x="1673.6" y="228.8" width="27.7" height="27.7" fill="#fff" stroke="#900000" stroke-width="3.8" stroke-linejoin="miter"/>
<rect x="1737.6" y="220.7" width="27.7" height="27.7" fill="#fff" stroke="#900000" stroke-width="3.8" stroke-linejoin="miter"/>
<rect x="1801.5" y="209.1" width="27.7" height="27.7" fill="#fff" stroke="#900000" stroke-width="3.8" stroke-linejoin="miter"/>
<rect x="1865.5" y="195.8" width="27.7" height="27.7" fill="#fff" stroke="#900000" stroke-width="3.8" stroke-linejoin="miter"/>
</g>
<g fill="none" stroke="#000" stroke-width="5.4">
<ellipse cx="1238.2" cy="289.6" rx="45.0" ry="71.4"/>
<ellipse cx="1454.8" cy="926.0" rx="41.7" ry="77.4"/>
<path d="M1236,216.7 H1318"/>
<path d="M1456,1003.7 H1360"/>
</g>
<path d="M1314.3,205.3 L1358.2,216.5 L1314.3,227.7 Z" fill="#000" stroke="#000" stroke-width="1.5" stroke-linejoin="round"/>
<path d="M1363.5,992.4 L1319.8,1003.8 L1363.5,1015.2 Z" fill="#000" stroke="#000" stroke-width="1.5" stroke-linejoin="round"/>
<g stroke="#000" stroke-width="8.8" fill="none" stroke-linecap="round" stroke-linejoin="round">
<path stroke-width="8.6" d="M414.4,1069.3 V1055.3 M547.6,1069.3 V1040.0 M680.9,1069.3 V1055.3 M814.1,1069.3 V1040.0 M947.4,1069.3 V1055.3 M1080.6,1069.3 V1040.0 M1213.8,1069.3 V1055.3 M1347.1,1069.3 V1040.0 M1480.3,1069.3 V1055.3 M1613.6,1069.3 V1040.0 M1746.8,1069.3 V1055.3 M282.5,924.4 H311.8 M1878.5,924.4 H1849.2 M282.5,779.4 H296.5 M1878.5,779.4 H1864.5 M282.5,634.4 H311.8 M1878.5,634.4 H1849.2 M282.5,489.4 H296.5 M1878.5,489.4 H1864.5 M282.5,344.4 H311.8 M1878.5,344.4 H1849.2 M282.5,199.4 H296.5 M1878.5,199.4 H1864.5"/>
<rect x="281.5" y="53.6" width="1598.0" height="1016.7"/>
</g>
<text class="tk" transform="translate(250.4,75.3) scale(1,1.035)" text-anchor="end">30</text>
<text class="tk" transform="translate(250.4,365.3) scale(1,1.035)" text-anchor="end">20</text>
<text class="tk" transform="translate(250.4,655.3) scale(1,1.035)" text-anchor="end">10</text>
<text class="tk" transform="translate(250.4,945.3) scale(1,1.035)" text-anchor="end">0</text>
<text class="tk" transform="translate(1913,75.3) scale(1,1.035)">3</text>
<text class="tk" transform="translate(1913,365.3) scale(1,1.035)">2</text>
<text class="tk" transform="translate(1913,655.3) scale(1,1.035)">1</text>
<text class="tk" transform="translate(1913,945.3) scale(1,1.035)">0</text>
<text class="tk" transform="translate(281.9,1164.2) scale(1,1.035)" text-anchor="middle">0</text>
<text class="tk" transform="translate(548.4,1164.2) scale(1,1.035)" text-anchor="middle">100</text>
<text class="tk" transform="translate(814.9,1164.2) scale(1,1.035)" text-anchor="middle">200</text>
<text class="tk" transform="translate(1081.4,1164.2) scale(1,1.035)" text-anchor="middle">300</text>
<text class="tk" transform="translate(1347.9,1164.2) scale(1,1.035)" text-anchor="middle">400</text>
<text class="tk" transform="translate(1614.4,1164.2) scale(1,1.035)" text-anchor="middle">500</text>
<text class="tk" transform="translate(1880.9,1164.2) scale(1,1.035)" text-anchor="middle">600</text>
<text class="ti" transform="translate(1081.7,1312.3) scale(0.958,1)" text-anchor="middle">Frequency [GHz]</text>
<text class="ti" transform="translate(94.9,600.6) rotate(-90)" text-anchor="middle">Gains [dB]</text>
<text class="ti" style="font-size:95.6px" transform="translate(2078.5,621) rotate(-90)" text-anchor="middle">Stability factor</text>
<line x1="1382.2" y1="399.4" x2="1549.7" y2="399.4" stroke="#ff0000" stroke-width="7.2" stroke-linecap="round"/>
<rect x="1449.6" y="383.5" width="31.8" height="31.8" rx="1.5" fill="#ff0000"/>
<text class="lg" transform="translate(1570,424.3) scale(1,1.045)">Gma</text>
<line x1="1382.2" y1="491.3" x2="1549.7" y2="491.3" stroke="#0000ff" stroke-width="7.2" stroke-linecap="round"/>
<rect x="1449.6" y="475.4" width="31.8" height="31.8" rx="1.5" fill="#0000ff"/>
<text class="lg" transform="translate(1570,516.2) scale(1,1.045)">Gmax</text>
<line x1="1382.2" y1="583.2" x2="1549.7" y2="583.2" stroke="#808000" stroke-width="7.2" stroke-linecap="round"/>
<rect x="1449.6" y="567.3" width="31.8" height="31.8" rx="1.5" fill="#808000"/>
<text class="lg" transform="translate(1570,608.1) scale(1,1.045)">U</text>
<line x1="1382.2" y1="675.1" x2="1549.7" y2="675.1" stroke="#900000" stroke-width="7.2" stroke-linecap="round"/>
<rect x="1451.7" y="661.2" width="27.7" height="27.7" fill="#fff" stroke="#900000" stroke-width="3.8"/>
<text class="lg" transform="translate(1570,700.0) scale(1,1.045)">K</text>
</svg></body></html>
